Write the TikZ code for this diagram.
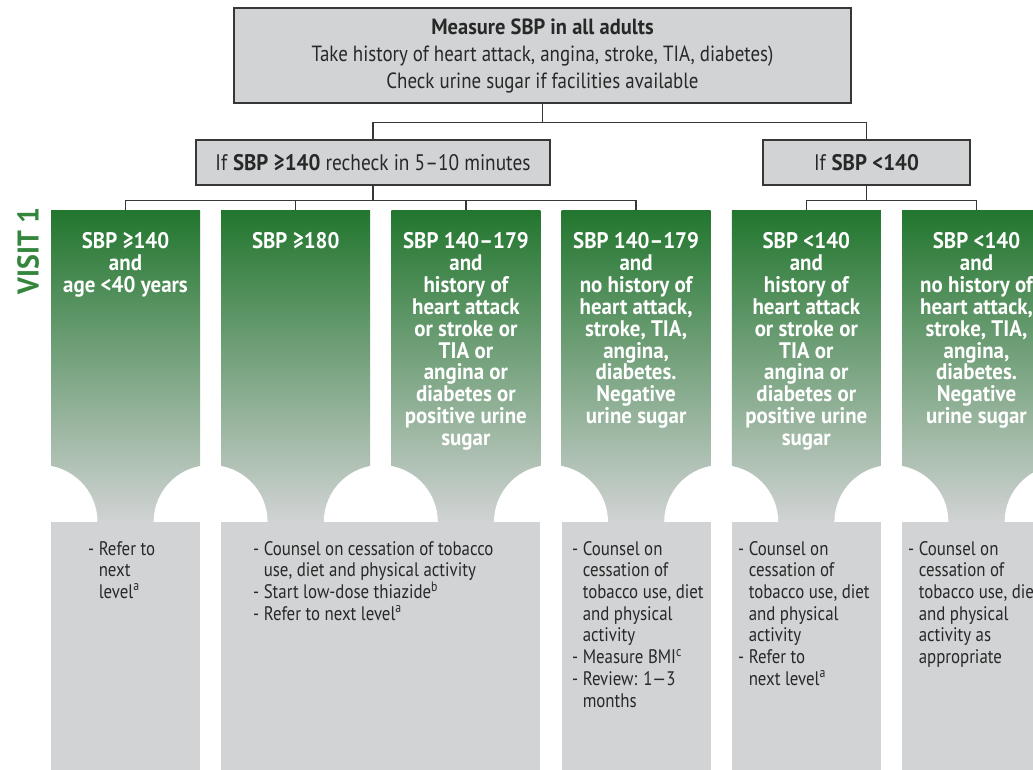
\documentclass[tikz,border=0pt]{standalone}
\usepackage{fontspec}
\setmainfont{PT Sans}[FakeStretch=0.86, BoldFeatures={FakeStretch=0.93}]
\usepackage{tikz}
\usetikzlibrary{shapes, backgrounds, calc}

\definecolor{boxgray}{RGB}{209,211,212}
\definecolor{linegray}{RGB}{55,55,55}
\definecolor{textgray}{RGB}{40,40,40}
\definecolor{topgreen}{RGB}{34,118,46}
\definecolor{visitgreen}{RGB}{52,134,60}

\tikzset{
  graybox/.style={draw=linegray, line width=1.4pt, fill=boxgray, inner sep=0pt, text=textgray},
  conn/.style={draw=linegray, line width=1.4pt},
  colhead/.style={top color=topgreen, bottom color=boxgray, minimum width=149, minimum height=312, inner sep=0pt},
  colfoot/.style={fill=boxgray, minimum height=249, inner sep=0pt},
  headtext/.style={anchor=north, inner sep=0pt, align=center, text=white, font=\fontsize{22.5}{21.9}\selectfont\bfseries},
  foottext/.style={anchor=north west, inner sep=0pt, align=left, text=textgray, font=\fontsize{19.6}{21.7}\selectfont},
}
\newcommand{\hang}{\hphantom{-\ }}

\begin{document}
\begin{tikzpicture}[x=1pt, y=-1pt]
             \clip (0,0) rectangle (1033,770);
             \fill[white] (0,0) rectangle (1033,770);
             % top of the chart
             \node[graybox, minimum width=617, minimum height=95, align=center, font=\fontsize{22}{27}\selectfont] (top) at (542.5,55.5)
                 {\textbf{Measure SBP in all adults}\\Take history of heart attack, angina, stroke, TIA, diabetes)\\Check urine sugar if facilities available};
             \node[graybox, minimum width=354, minimum height=45, font=\fontsize{22.5}{24}\selectfont] (hi) at (373,162.5) {If \textbf{SBP ≥140} recheck in 5–10 minutes};
             \node[graybox, minimum width=207, minimum height=45, font=\fontsize{22.5}{24}\selectfont] (lo) at (866.5,162.5) {If \textbf{SBP <140}};
             \node[rotate=90, inner sep=0pt, text=visitgreen, font=\fontsize{30}{30}\selectfont\bfseries] (visit) at (28,251) {VISIT 1};

             % green columns
             \node[colhead] (c1) at (125.5,366.5) {};
             \node[colhead] (c2) at (295.7,366.5) {};
             \node[colhead] (c3) at (465.9,366.5) {};
             \node[colhead] (c4) at (636.1,366.5) {};
             \node[colhead] (c5) at (806.3,366.5) {};
             \node[colhead] (c6) at (976.5,366.5) {};

             % white cut-outs at the foot of the columns
             \fill[white] (40.5,522) circle[radius=57];
             \fill[white] (210.6,522) circle[radius=57];
             \fill[white] (380.8,522) circle[radius=57];
             \fill[white] (551.0,522) circle[radius=57];
             \fill[white] (721.2,522) circle[radius=57];
             \fill[white] (891.4,522) circle[radius=57];
             \fill[white] (1061.6,522) circle[radius=57];

             % gray action boxes
             \node[colfoot, minimum width=149] (g1) at (125.5,646) {};
             \node[colfoot, minimum width=319.2] (g2) at (380.8,646) {};
             \node[colfoot, minimum width=149] (g4) at (636.1,646) {};
             \node[colfoot, minimum width=149] (g5) at (806.3,646) {};
             \node[colfoot, minimum width=149] (g6) at (976.5,646) {};

             \draw[conn] (top.south) -- ++(0,19) -| (hi.north);
             \draw[conn] (top.south) -- ++(0,19) -| (lo.north);
             \draw[conn] (hi.south) -- ++(0,15) -| (c1.north);
             \draw[conn] (hi.south) -- ++(0,15) -| (c2.north);
             \draw[conn] (hi.south) -- ++(0,15) -| (c3.north);
             \draw[conn] (hi.south) -- ++(0,15) -| (c4.north);
             \draw[conn] (lo.south) -- ++(0,15) -| (c5.north);
             \draw[conn] (lo.south) -- ++(0,15) -| (c6.north);

             \node[headtext] (t1) at ($(c1.north)+(0,22)$) {SBP ≥140\\and\\age <40 years};
             \node[headtext] (t2) at ($(c2.north)+(0,22)$) {SBP ≥180};
             \node[headtext] (t3) at ($(c3.north)+(0,22)$) {SBP 140–179\\and\\history of\\heart attack\\or stroke or\\TIA or\\angina or\\diabetes or\\positive urine\\sugar};
             \node[headtext] (t4) at ($(c4.north)+(0,22)$) {SBP 140–179\\and\\no history of\\heart attack,\\stroke, TIA,\\angina,\\diabetes.\\Negative\\urine sugar};
             \node[headtext] (t5) at ($(c5.north)+(0,22)$) {SBP <140\\and\\history of\\heart attack\\or stroke or\\TIA or\\angina or\\diabetes or\\positive urine\\sugar};
             \node[headtext] (t6) at ($(c6.north)+(0,22)$) {SBP <140\\and\\no history of\\heart attack,\\stroke, TIA,\\angina,\\diabetes.\\Negative\\urine sugar};

             \node[foottext] (a1) at (88,541) {- Refer to\\\hang next\\\hang level\textsuperscript{a}};
             \node[foottext] (a2) at (253,541) {- Counsel on cessation of tobacco\\\hang use, diet and physical activity\\- Start low-dose thiazide\textsuperscript{b}\\- Refer to next level\textsuperscript{a}};
             \node[foottext] (a4) at (572,541) {- Counsel on\\\hang cessation of\\\hang tobacco use, diet\\\hang and physical\\\hang activity\\- Measure BMI\textsuperscript{c}\\- Review: 1—3\\\hang months};
             \node[foottext] (a5) at (738,541) {- Counsel on\\\hang cessation of\\\hang tobacco use, diet\\\hang and physical\\\hang activity\\- Refer to\\\hang next level\textsuperscript{a}};
             \node[foottext] (a6) at (908,541) {- Counsel on\\\hang cessation of\\\hang tobacco use, diet\\\hang and physical\\\hang activity as\\\hang appropriate};
         \end{tikzpicture}
\end{document}
